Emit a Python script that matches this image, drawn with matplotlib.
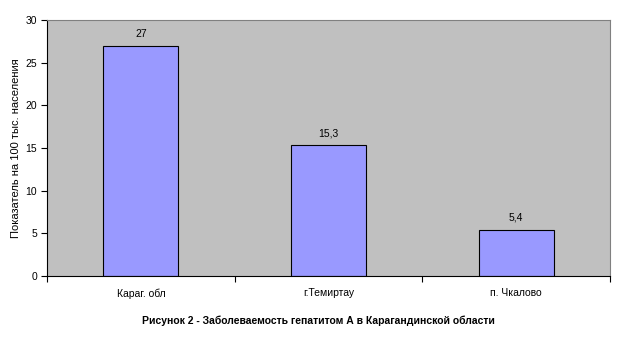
import matplotlib
matplotlib.use("Agg")
import matplotlib.pyplot as plt
import numpy as np

plt.rcParams['font.family'] = ['Liberation Sans', 'DejaVu Sans']

categories = ["Караг. обл", "г.Темиртау", "п. Чкалово"]
values = [27, 15.3, 5.4]
value_labels = ["27", "15,3", "5,4"]

fig = plt.figure(figsize=(6.23, 3.38), dpi=100)
ax = fig.add_axes([47 / 623, 62 / 338, 563 / 623, 256 / 338])
ax.set_facecolor("#C0C0C0")

x = np.arange(len(categories))
bars = ax.bar(x, values, width=0.4, color="#9999FF", edgecolor="black", linewidth=0.8)
for b, lab in zip(bars, value_labels):
    ax.annotate(lab, (b.get_x() + b.get_width() / 2, b.get_height()),
                xytext=(0, 5), textcoords="offset points", ha="center", va="bottom", fontsize=7.5)

ax.set_xlim(-0.5, 2.5)
ax.set_ylim(0, 30)
ax.set_yticks(range(0, 31, 5))
ax.set_xticks(x)
ax.set_xticklabels(categories, fontsize=7.5)
ax.tick_params(axis="x", which="major", length=0, pad=9)
ax.set_xticks([-0.5, 0.5, 1.5, 2.5], minor=True)
ax.tick_params(axis="x", which="minor", length=4, width=0.8)
ax.tick_params(axis="y", length=4, width=0.8, labelsize=7.5, pad=3)

for s in ["top", "right"]:
    ax.spines[s].set_color("#808080")
    ax.spines[s].set_linewidth(0.8)
for s in ["left", "bottom"]:
    ax.spines[s].set_linewidth(0.8)

ax.set_ylabel("Показатель на 100 тыс. населения", fontsize=8, labelpad=3)
fig.text(318 / 623, 1 - 321 / 338, "Рисунок 2 - Заболеваемость гепатитом А в Карагандинской области",
         ha="center", va="center", fontsize=7.5, fontweight="bold")

fig.savefig("out.png", dpi=100)
